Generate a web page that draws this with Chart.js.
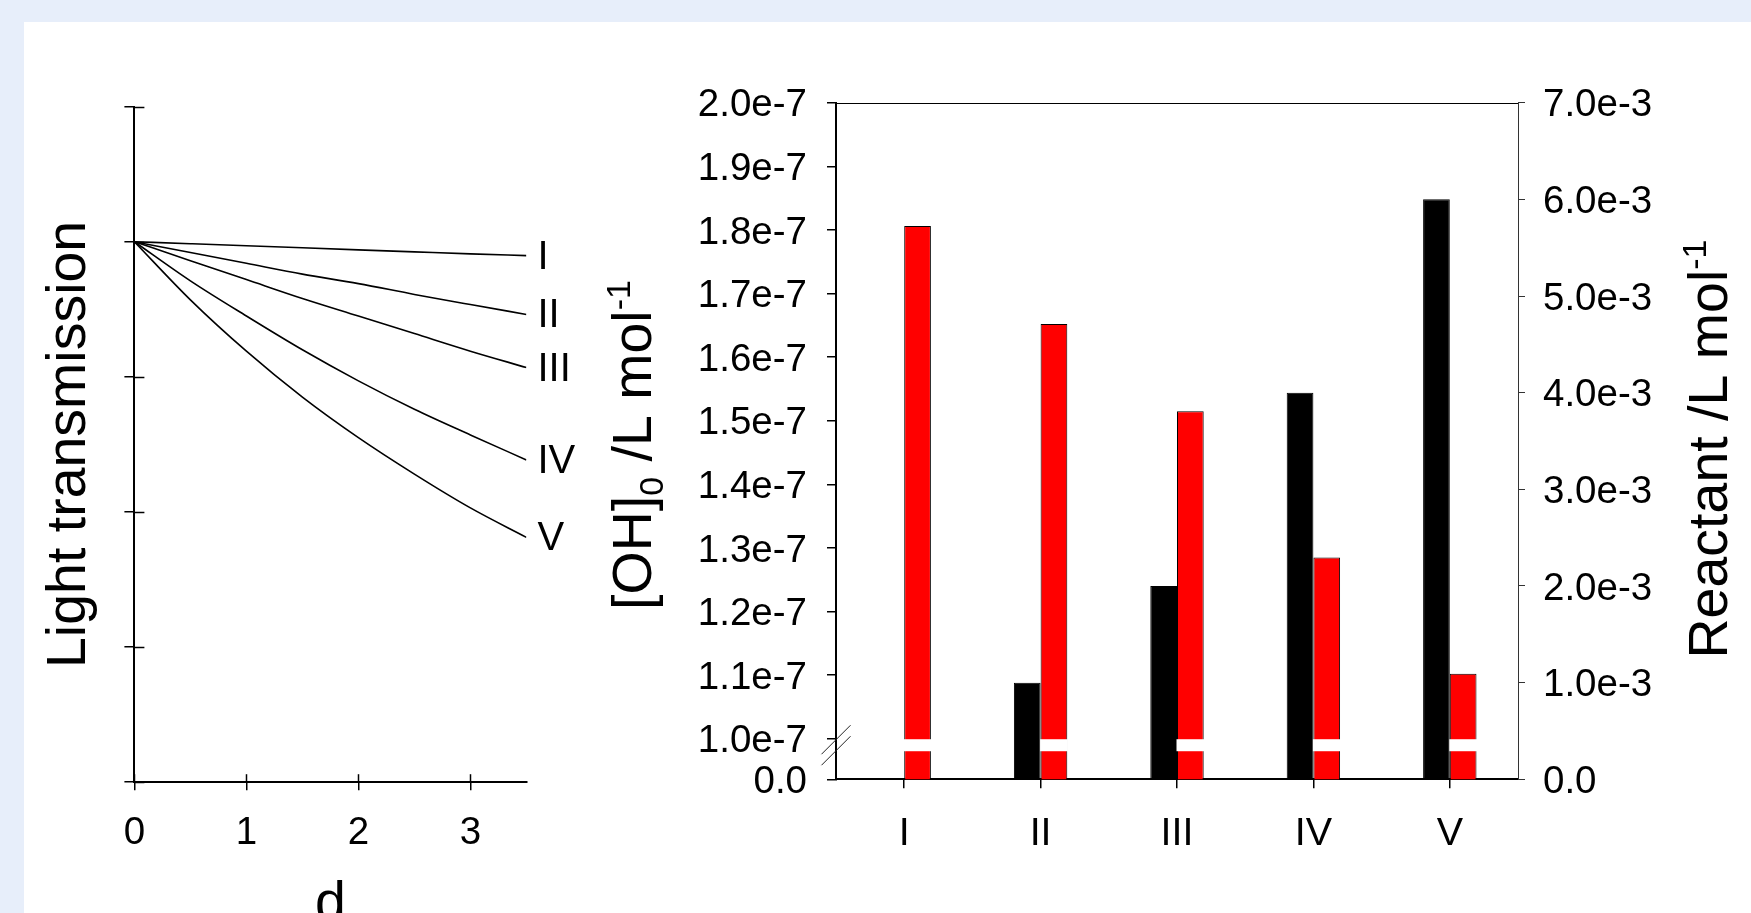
<!DOCTYPE html>
<html>
<head>
<meta charset="utf-8">
<script src="https://cdn.jsdelivr.net/npm/chart.js@4.4.1/dist/chart.umd.min.js"></script>
<style>
  html, body { margin:0; padding:0; }
  body { width:1751px; height:913px; background:#e7eefa; overflow:hidden; position:relative; }
  #panel { position:absolute; left:24px; top:22px; right:0; bottom:0; background:#fff; }
  canvas { position:absolute; top:22px; }
  #lightChart { left:24px; }
  #barChart { left:600px; }
</style>
</head>
<body>
<div id="panel"></div>
<canvas id="lightChart" width="576" height="891"></canvas>
<canvas id="barChart" width="1151" height="891"></canvas>
<script>
const FONT = '"Liberation Sans", Arial, Helvetica, sans-serif';

/* left panel: light transmission vs depth */
const depth = [0, 0.5, 1, 1.5, 2, 2.5, 3, 3.5];
const depthTicks = [0, 1, 2, 3];
const curveNames = ['I', 'II', 'III', 'IV', 'V'];
const transI   = [4, 3.985, 3.97, 3.955, 3.94, 3.925, 3.91, 3.897];
const transII  = [4, 3.92, 3.84, 3.76, 3.69, 3.61, 3.535, 3.462];
const transIII = [4, 3.86, 3.72, 3.58, 3.45, 3.32, 3.19, 3.069];
const transIV  = [4, 3.71, 3.45, 3.20, 2.97, 2.76, 2.57, 2.385];
const transV   = [4, 3.57, 3.19, 2.85, 2.55, 2.28, 2.03, 1.812];

/* right panel: [OH]0 and reactant per run */
const categories = ['I', 'II', 'III', 'IV', 'V'];
const reactant = [0, 1.0e-3, 2.0e-3, 4.0e-3, 6.0e-3];
const ohConc   = [1.806e-7, 1.652e-7, 1.515e-7, 1.285e-7, 1.102e-7];
const ohTicks  = [1.0e-7, 1.1e-7, 1.2e-7, 1.3e-7, 1.4e-7, 1.5e-7, 1.6e-7, 1.7e-7, 1.8e-7, 1.9e-7, 2.0e-7];
const reactantTicks = [0, 1.0e-3, 2.0e-3, 3.0e-3, 4.0e-3, 5.0e-3, 6.0e-3, 7.0e-3];

// axis break: 0..1e-7 squeezed into the strip below the 1.0e-7 tick
const OH_BREAK = 1.0e-7;
const OH_AXIS_MIN = 0.9362e-7;

const TITLE_SIZE = 55.5;
const TICK_SIZE = 38.5;

function drawRotatedRich(ctx, parts, baseX, centerY){
  ctx.save();
  ctx.translate(baseX, centerY);
  ctx.rotate(-Math.PI / 2);
  let total = 0;
  parts.forEach(p => { ctx.font = p.size + 'px ' + FONT; p.w = ctx.measureText(p.text).width; total += p.w; });
  let x = -total / 2;
  ctx.fillStyle = '#000';
  ctx.textAlign = 'left';
  ctx.textBaseline = 'alphabetic';
  parts.forEach(p => { ctx.font = p.size + 'px ' + FONT; ctx.fillText(p.text, x, p.shift || 0); x += p.w; });
  ctx.restore();
}

/* ---------- left chart ---------- */
const lightExtras = {
  id: 'lightExtras',
  afterDraw(chart){
    const ctx = chart.ctx, a = chart.chartArea;
    const xs = chart.scales.x, ys = chart.scales.y;
    ctx.save();
    ctx.strokeStyle = '#000';
    ctx.lineWidth = 1.5;
    // inner half of the crossing ticks
    ys.ticks.forEach(t => {
      const y = Math.round(ys.getPixelForValue(t.value)) + 0.5;
      ctx.beginPath(); ctx.moveTo(a.left, y); ctx.lineTo(a.left + 10, y); ctx.stroke();
    });
    xs.ticks.forEach(t => {
      const x = Math.round(xs.getPixelForValue(t.value)) + 0.5;
      ctx.beginPath(); ctx.moveTo(x, a.bottom); ctx.lineTo(x, a.bottom - 8); ctx.stroke();
    });
    // curve labels at the line ends
    ctx.font = '40px ' + FONT;
    ctx.fillStyle = '#000';
    ctx.textAlign = 'left';
    ctx.textBaseline = 'middle';
    chart.data.datasets.forEach(ds => {
      const last = ds.data[ds.data.length - 1];
      ctx.fillText(ds.label, xs.getPixelForValue(last.x) + 11, ys.getPixelForValue(last.y) + 2);
    });
    ctx.restore();
    // axis titles
    drawRotatedRich(ctx, [{text: 'Light transmission', size: TITLE_SIZE}], 61, (a.top + a.bottom) / 2);
    ctx.save();
    ctx.font = TITLE_SIZE + 'px ' + FONT;
    ctx.fillStyle = '#000';
    ctx.textAlign = 'center';
    ctx.textBaseline = 'alphabetic';
    ctx.fillText('d', (a.left + a.right) / 2, 898);
    ctx.restore();
  }
};

const lightSeries = [transI, transII, transIII, transIV, transV];

new Chart(document.getElementById('lightChart'), {
  type: 'line',
  data: {
    datasets: lightSeries.map((s, i) => ({
      label: curveNames[i],
      data: depth.map((d, j) => ({x: d, y: s[j]})),
      borderColor: '#000',
      borderWidth: 1.6,
      pointRadius: 0,
      cubicInterpolationMode: 'monotone',
      fill: false
    }))
  },
  options: {
    responsive: false,
    animation: false,
    devicePixelRatio: 1,
    layout: { padding: { top: 84.6, right: 73.6, left: 0, bottom: 0 } },
    plugins: { legend: { display: false }, tooltip: { enabled: false } },
    scales: {
      x: {
        type: 'linear', min: 0, max: 3.5,
        afterBuildTicks: s => { s.ticks = depthTicks.map(v => ({value: v})); },
        afterFit: s => { s.height = 130.8; },
        grid: { drawOnChartArea: false, tickLength: 8, color: '#000', lineWidth: 1.5 },
        border: { color: '#000', width: 2 },
        ticks: { color: '#000', font: { family: FONT, size: TICK_SIZE }, padding: 20, autoSkip: false }
      },
      y: {
        min: 0, max: 5,
        ticks: { stepSize: 1, display: false },
        afterFit: s => { s.width = 110.4; },
        grid: { drawOnChartArea: false, tickLength: 10, color: '#000', lineWidth: 1.5 },
        border: { color: '#000', width: 2 }
      }
    }
  },
  plugins: [lightExtras]
});

/* ---------- right chart ---------- */
const barExtras = {
  id: 'barExtras',
  afterDatasetsDraw(chart){
    const ctx = chart.ctx;
    const yb = chart.scales.y.getPixelForValue(OH_BREAK);
    ctx.save();
    ctx.fillStyle = '#fff';
    chart.getDatasetMeta(1).data.forEach(el => {
      ctx.fillRect(el.x - el.width / 2 - 0.5, yb + 0.5, el.width + 1, 12);
    });
    ctx.restore();
  },
  afterDraw(chart){
    const ctx = chart.ctx, a = chart.chartArea;
    const yb = chart.scales.y.getPixelForValue(OH_BREAK);
    ctx.save();
    // top frame line
    ctx.strokeStyle = '#000';
    ctx.lineWidth = 1;
    ctx.beginPath(); ctx.moveTo(a.left, Math.round(a.top) + 0.5); ctx.lineTo(a.right, Math.round(a.top) + 0.5); ctx.stroke();
    // break marks on the left axis
    ctx.strokeStyle = '#222';
    [1, 12].forEach(off => {
      const cy = yb + off;
      ctx.beginPath(); ctx.moveTo(a.left - 14.5, cy + 14.5); ctx.lineTo(a.left + 14.5, cy - 14.5); ctx.stroke();
    });
    ctx.restore();
    const cy = (a.top + a.bottom) / 2;
    drawRotatedRich(ctx, [
      {text: '[OH]', size: TITLE_SIZE},
      {text: '0', size: 34, shift: 12},
      {text: ' /L mol', size: TITLE_SIZE},
      {text: '-1', size: 34, shift: -21}
    ], 51, cy + 4);
    drawRotatedRich(ctx, [
      {text: 'Reactant /L mol', size: TITLE_SIZE},
      {text: '-1', size: 34, shift: -21}
    ], 1127, cy + 8);
  }
};

const expLabel = v => (v === 0 ? '0.0' : Number(v).toExponential(1));

new Chart(document.getElementById('barChart'), {
  type: 'bar',
  data: {
    labels: categories,
    datasets: [
      { label: 'Reactant', data: reactant, yAxisID: 'y1', backgroundColor: '#000', borderColor: '#000', borderWidth: 1 },
      { label: '[OH]0', data: ohConc, yAxisID: 'y', backgroundColor: '#ff0000', borderColor: '#000', borderWidth: 1 }
    ]
  },
  options: {
    responsive: false,
    animation: false,
    devicePixelRatio: 1,
    categoryPercentage: 0.3915,
    barPercentage: 1,
    layout: { padding: { top: 80.7, right: 0, left: 0, bottom: 0 } },
    plugins: { legend: { display: false }, tooltip: { enabled: false } },
    scales: {
      x: {
        afterFit: s => { s.height = 133.7; },
        grid: { offset: false, drawOnChartArea: false, tickLength: 9, color: '#000', lineWidth: 1.5 },
        border: { color: '#000', width: 2 },
        ticks: { color: '#000', font: { family: FONT, size: 39.5 }, padding: 22 }
      },
      y: {
        position: 'left',
        min: OH_AXIS_MIN, max: 2.0e-7,
        afterBuildTicks: s => { s.ticks = [OH_AXIS_MIN].concat(ohTicks).map(v => ({value: v})); },
        afterFit: s => { s.width = 236; },
        grid: { drawOnChartArea: false, tickLength: 9, color: '#000', lineWidth: 1.5 },
        border: { color: '#000', width: 2 },
        ticks: {
          color: '#000', font: { family: FONT, size: TICK_SIZE }, padding: 20, autoSkip: false, labelOffset: 3,
          callback: v => (v === OH_AXIS_MIN ? '0.0' : expLabel(v))
        }
      },
      y1: {
        position: 'right',
        min: 0, max: 7.0e-3,
        afterBuildTicks: s => { s.ticks = reactantTicks.map(v => ({value: v})); },
        afterFit: s => { s.width = 233; },
        grid: { drawOnChartArea: false, tickLength: 7, color: '#333', lineWidth: 1 },
        border: { color: '#333', width: 1 },
        ticks: { color: '#000', font: { family: FONT, size: TICK_SIZE }, padding: 18, autoSkip: false, labelOffset: 3, callback: expLabel }
      }
    }
  },
  plugins: [barExtras]
});
</script>
</body>
</html>
